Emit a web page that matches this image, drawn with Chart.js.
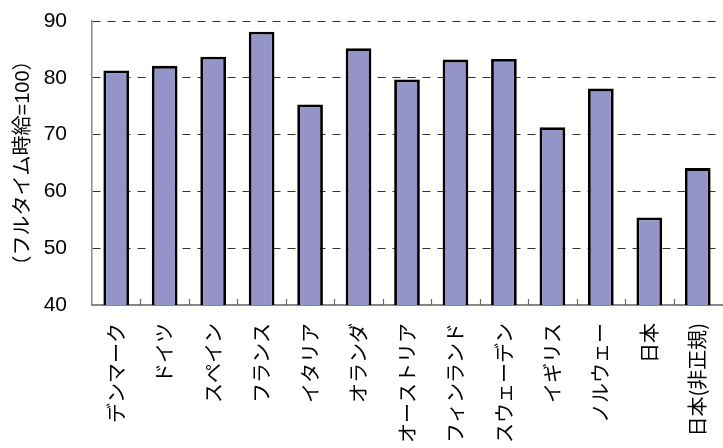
<!DOCTYPE html>
<html><head><meta charset="utf-8">
<script src="https://cdn.jsdelivr.net/npm/chart.js@4/dist/chart.umd.min.js"></script>
<style>html,body{margin:0;padding:0;background:#fff}#wrap{width:723px;height:448px}</style>
</head><body><div id="wrap"><canvas id="c" width="723" height="448"></canvas></div>
<script>
const categories = ['デンマーク','ドイツ','スペイン','フランス','イタリア','オランダ','オーストリア','フィンランド','スウェーデン','イギリス','ノルウェー','日本','日本(非正規)'];
const values = [81.3, 82.1, 83.7, 88.1, 75.3, 85.2, 79.7, 83.2, 83.3, 71.3, 78.1, 55.4, 64.1];
const yTicks = [40, 50, 60, 70, 80, 90];
const yTitle = '（フルタイム時給=100）';

const innerTicks = {
  id: 'innerTicks',
  afterDatasetsDraw(chart) {
    const xs = chart.scales.x, ctx = chart.ctx;
    const yb = chart.chartArea.bottom;
    ctx.save();
    ctx.strokeStyle = '#666';
    ctx.lineWidth = 1.2;
    for (let i = 1; i < categories.length; i++) {
      const x = Math.round((xs.getPixelForValue(i - 1) + xs.getPixelForValue(i)) / 2) + 0.5;
      ctx.beginPath();
      ctx.moveTo(x, yb);
      ctx.lineTo(x, yb - 6);
      ctx.stroke();
    }
    ctx.restore();
  }
};

new Chart(document.getElementById('c'), {
  type: 'bar',
  data: {
    labels: categories,
    datasets: [{
      data: values,
      backgroundColor: '#9494C8',
      borderColor: '#000',
      borderWidth: 2.8,
      borderSkipped: 'bottom',
      barPercentage: 0.53,
      categoryPercentage: 1
    }]
  },
  options: {
    responsive: false,
    animation: false,
    layout: { padding: { top: 21, right: 1, left: 0, bottom: 0 } },
    plugins: { legend: { display: false }, tooltip: { enabled: false } },
    scales: {
      x: {
        grid: { display: false },
        border: { display: true, color: '#888', width: 2 },
        ticks: {
          minRotation: 90, maxRotation: 90, autoSkip: false, padding: 10,
          color: '#000',
          font: { family: '"Noto Sans CJK JP"', size: 20 }
        },
        afterFit(s) { s.height = 143; s.paddingLeft = 0; s.paddingRight = 0; }
      },
      y: {
        min: 40, max: 90,
        afterBuildTicks(s) { s.ticks = yTicks.map(v => ({ value: v })); },
        grid: {
          drawTicks: false,
          color: ctx => (ctx.tick && ctx.tick.value === 40) ? 'rgba(0,0,0,0)' : '#333',
          lineWidth: 1
        },
        border: { display: true, color: '#888', width: 1.5, dash: [8, 7] },
        ticks: {
          padding: 25, color: '#000',
          font: { family: '"Liberation Sans", Arial, sans-serif', size: 21 }
        },
        title: {
          display: true, text: yTitle, color: '#000',
          padding: { top: 11, bottom: 0 },
          font: { family: '"Liberation Sans", "Noto Sans CJK JP", sans-serif', size: 20 }
        },
        afterFit(s) { s.width = 92; s.paddingTop = 0; s.paddingBottom = 0; }
      }
    }
  },
  plugins: [innerTicks]
});
</script>
</body></html>
